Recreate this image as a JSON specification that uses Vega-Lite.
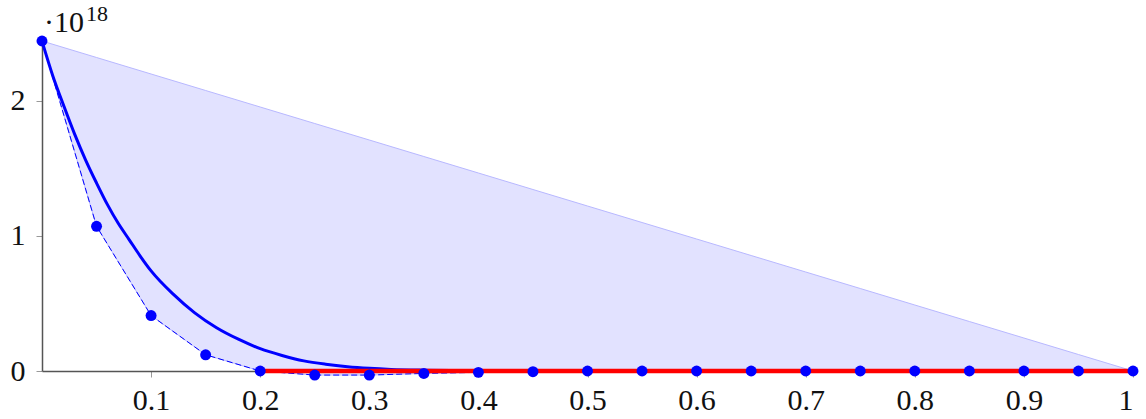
{
  "$schema": "https://vega.github.io/schema/vega-lite/v6.json",
  "width": 1091,
  "height": 330,
  "autosize": "none",
  "padding": {"left": 42, "top": 41, "right": 13, "bottom": 48},
  "background": "white",
  "config": {"view": {"stroke": null}},
  "datasets": {
    "pts": [
      {"x": 0.0, "dash": 2.44, "top": 2.44},
      {"x": 0.05, "dash": 1.07, "top": 2.318},
      {"x": 0.1, "dash": 0.41, "top": 2.196},
      {"x": 0.15, "dash": 0.12, "top": 2.074},
      {"x": 0.2, "dash": 0.0, "top": 1.952},
      {"x": 0.25, "dash": -0.03, "top": 1.83},
      {"x": 0.3, "dash": -0.03, "top": 1.708},
      {"x": 0.35, "dash": -0.018, "top": 1.586},
      {"x": 0.4, "dash": -0.01, "top": 1.464},
      {"x": 0.45, "dash": -0.005, "top": 1.342},
      {"x": 0.5, "dash": 0.0, "top": 1.22},
      {"x": 0.55, "dash": 0.0, "top": 1.098},
      {"x": 0.6, "dash": 0.0, "top": 0.976},
      {"x": 0.65, "dash": 0.0, "top": 0.854},
      {"x": 0.7, "dash": 0.0, "top": 0.732},
      {"x": 0.75, "dash": 0.0, "top": 0.61},
      {"x": 0.8, "dash": 0.0, "top": 0.488},
      {"x": 0.85, "dash": 0.0, "top": 0.366},
      {"x": 0.9, "dash": 0.0, "top": 0.244},
      {"x": 0.95, "dash": 0.0, "top": 0.122},
      {"x": 1.0, "dash": 0.0, "top": 0.0}
    ],
    "curve": [
      {"x": 0.0, "y": 2.44},
      {"x": 0.01, "y": 2.18},
      {"x": 0.02, "y": 1.96},
      {"x": 0.03, "y": 1.75},
      {"x": 0.04, "y": 1.56},
      {"x": 0.05, "y": 1.39},
      {"x": 0.06, "y": 1.23},
      {"x": 0.07, "y": 1.09},
      {"x": 0.08, "y": 0.97},
      {"x": 0.09, "y": 0.85},
      {"x": 0.1, "y": 0.74},
      {"x": 0.12, "y": 0.57},
      {"x": 0.14, "y": 0.43},
      {"x": 0.16, "y": 0.32},
      {"x": 0.18, "y": 0.235},
      {"x": 0.2, "y": 0.165},
      {"x": 0.22, "y": 0.115},
      {"x": 0.24, "y": 0.075},
      {"x": 0.26, "y": 0.05},
      {"x": 0.28, "y": 0.032},
      {"x": 0.3, "y": 0.02},
      {"x": 0.32, "y": 0.012},
      {"x": 0.35, "y": 0.006},
      {"x": 0.4, "y": 0.002},
      {"x": 0.5, "y": 0.0},
      {"x": 1.0, "y": 0.0}
    ],
    "red": [
      {"x": 0.2, "y": 0},
      {"x": 1.0, "y": 0}
    ],
    "lbl": [
      {"x": 0, "y": 2.44, "a": "·10", "b": "18"}
    ]
  },
  "layer": [
    {
      "data": {"name": "pts"},
      "mark": {"type": "area", "color": "#e2e2ff", "opacity": 1},
      "encoding": {
        "x": {
          "field": "x", "type": "quantitative",
          "scale": {"domain": [0, 1], "nice": false, "zero": false},
          "axis": {
            "title": null,
            "values": [0.1, 0.2, 0.3, 0.4, 0.5, 0.6, 0.7, 0.8, 0.9, 1],
            "labelExpr": "toString(datum.value)",
            "grid": false,
            "domainColor": "#555555",
            "domainWidth": 1.5,
            "tickColor": "#999999",
            "tickWidth": 1,
            "tickSize": 6,
            "labelPadding": 8,
            "labelFont": "Liberation Serif",
            "labelFontSize": 30,
            "labelColor": "#111111"
          }
        },
        "y": {
          "field": "top", "type": "quantitative",
          "scale": {"domain": [0, 2.44], "nice": false, "zero": false},
          "axis": {
            "title": null,
            "values": [0, 1, 2],
            "format": "d",
            "grid": false,
            "domainColor": "#555555",
            "domainWidth": 1.5,
            "tickColor": "#999999",
            "tickWidth": 1,
            "tickSize": 6,
            "labelPadding": 11,
            "labelFont": "Liberation Serif",
            "labelFontSize": 30,
            "labelColor": "#111111"
          }
        },
        "y2": {"field": "dash"}
      }
    },
    {
      "data": {"name": "pts"},
      "mark": {"type": "line", "color": "#b8b8ff", "strokeWidth": 1},
      "encoding": {
        "x": {"field": "x", "type": "quantitative"},
        "y": {"field": "top", "type": "quantitative"}
      }
    },
    {
      "data": {"name": "pts"},
      "mark": {"type": "line", "color": "#b8b8ff", "strokeWidth": 1},
      "encoding": {
        "x": {"field": "x", "type": "quantitative"},
        "y": {"field": "dash", "type": "quantitative"}
      }
    },
    {
      "data": {"name": "pts"},
      "mark": {"type": "line", "color": "#0000ff", "strokeWidth": 1, "strokeDash": [6, 3]},
      "encoding": {
        "x": {"field": "x", "type": "quantitative"},
        "y": {"field": "dash", "type": "quantitative"}
      }
    },
    {
      "data": {"name": "curve"},
      "mark": {"type": "line", "color": "#0000ff", "strokeWidth": 3, "interpolate": "monotone"},
      "encoding": {
        "x": {"field": "x", "type": "quantitative"},
        "y": {"field": "y", "type": "quantitative"}
      }
    },
    {
      "data": {"name": "red"},
      "mark": {"type": "line", "color": "#ff0000", "strokeWidth": 4.5},
      "encoding": {
        "x": {"field": "x", "type": "quantitative"},
        "y": {"field": "y", "type": "quantitative"}
      }
    },
    {
      "data": {"name": "pts"},
      "mark": {"type": "point", "filled": true, "color": "#0000ff", "opacity": 1, "size": 120},
      "encoding": {
        "x": {"field": "x", "type": "quantitative"},
        "y": {"field": "dash", "type": "quantitative"}
      }
    },
    {
      "data": {"name": "lbl"},
      "mark": {"type": "text", "align": "left", "baseline": "alphabetic", "dx": 2, "dy": -9, "font": "Liberation Serif", "fontSize": 30, "color": "#111111"},
      "encoding": {
        "x": {"field": "x", "type": "quantitative"},
        "y": {"field": "y", "type": "quantitative"},
        "text": {"field": "a"}
      }
    },
    {
      "data": {"name": "lbl"},
      "mark": {"type": "text", "align": "left", "baseline": "alphabetic", "dx": 44, "dy": -20, "font": "Liberation Serif", "fontSize": 22, "color": "#111111"},
      "encoding": {
        "x": {"field": "x", "type": "quantitative"},
        "y": {"field": "y", "type": "quantitative"},
        "text": {"field": "b"}
      }
    }
  ]
}
